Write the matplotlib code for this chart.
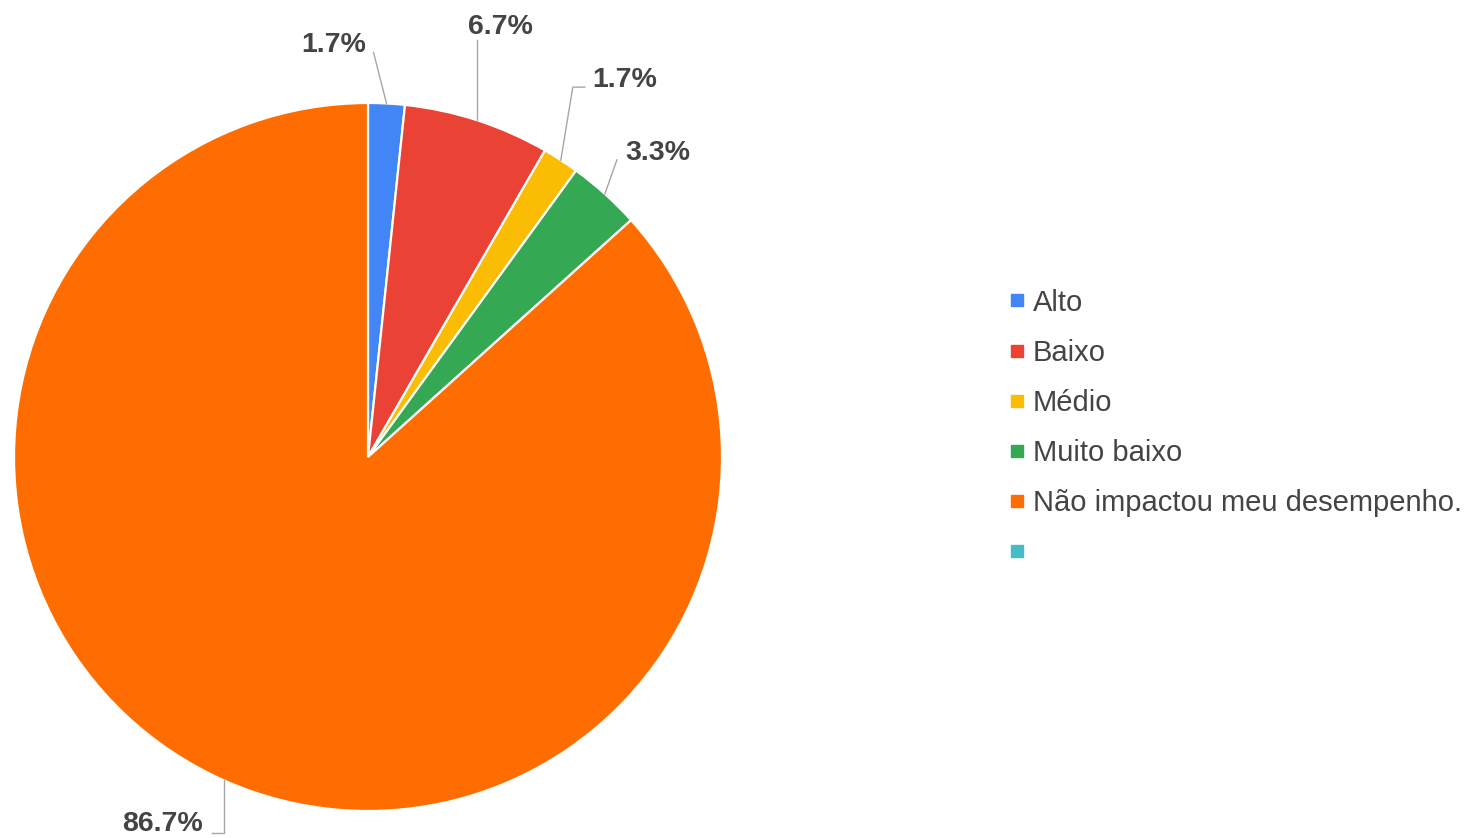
import numpy as np
import matplotlib
matplotlib.use("Agg")
import matplotlib.pyplot as plt
from matplotlib.lines import Line2D

plt.rcParams['font.family'] = ['Liberation Sans', 'DejaVu Sans']

# Data (responses per category)
categories = ["Alto", "Baixo", "Médio", "Muito baixo", "Não impactou meu desempenho.", ""]
counts = [1, 4, 1, 2, 52, 0]
colors = ["#4285F4", "#EA4335", "#FBBC04", "#34A853", "#FF6D01", "#46BDC6"]

# Leader line layout per slice (pixel offsets from the slice edge, y up)
leader_paths = [
    [(0, 0), (-13, 51)],
    [(0, 0), (0, 80)],
    [(0, 0), (12, 73), (24, 73)],
    [(0, 0), (12, 34)],
    [(0, 0), (0, -53), (-12, -53)],
]
text_offsets = [(-20, 58, 'right'), (23, 93, 'center'), (31, 80, 'left'),
                (20, 41, 'left'), (-21, -44, 'right')]

W, H = 1470, 838
R_PX = 354.0
fig = plt.figure(figsize=(W / 100, H / 100), dpi=100)
ax = fig.add_axes([(368 - R_PX) / W, (H - 457 - R_PX) / H, 2 * R_PX / W, 2 * R_PX / H])

vals = [c for c in counts if c > 0]
cols = [colors[i] for i, c in enumerate(counts) if c > 0]
total = sum(counts)

wedges, _ = ax.pie(vals, colors=cols, startangle=90, counterclock=False, radius=1,
                   wedgeprops=dict(edgecolor='white', linewidth=1.6))
ax.set_xlim(-1, 1)
ax.set_ylim(-1, 1)
ax.set_aspect('equal')
ax.axis('off')

for w, v, path, (tdx, tdy, ha) in zip(wedges, vals, leader_paths, text_offsets):
    mid = np.deg2rad((w.theta1 + w.theta2) / 2)
    x0, y0 = np.cos(mid), np.sin(mid)
    xs = [x0 + px / R_PX for px, py in path]
    ys = [y0 + py / R_PX for px, py in path]
    ax.plot(xs, ys, color='#a6a6a6', lw=1.0, clip_on=False)
    ax.annotate(f"{v / total * 100:.1f}%", xy=(x0, y0), xytext=(tdx * 0.72, tdy * 0.72),
                textcoords='offset points', ha=ha, va='center', fontsize=20.5,
                fontweight='bold', color='#444444', annotation_clip=False)

handles = [Line2D([], [], marker='s', linestyle='none', markersize=8,
                  markerfacecolor=c, markeredgecolor=c) for c in colors]
fig.legend(handles, categories, loc='center left', bbox_to_anchor=(1010 / W, 1 - 428 / H),
           frameon=False, fontsize=21, labelcolor='#444444', handlelength=0.5,
           handletextpad=0.28, labelspacing=0.76, borderpad=0, borderaxespad=0)

fig.savefig("out.png", dpi=100)
